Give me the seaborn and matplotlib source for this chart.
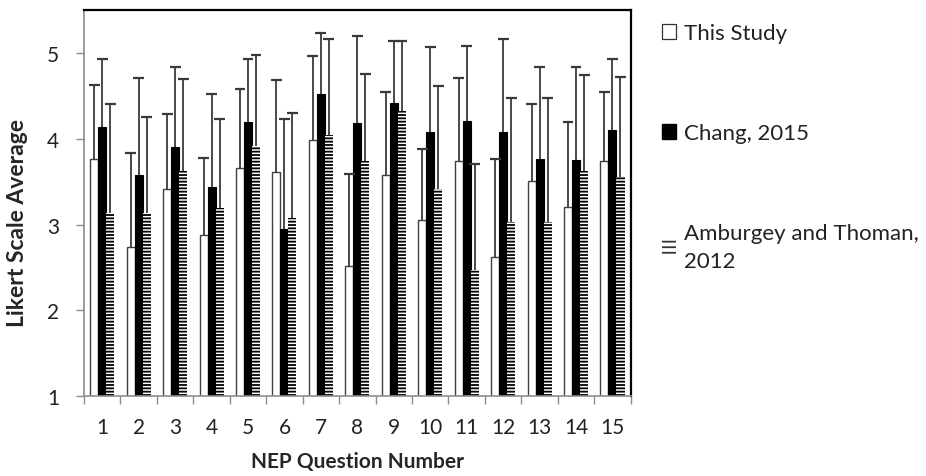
import numpy as np
import pandas as pd
import matplotlib
matplotlib.use("Agg")
import matplotlib.pyplot as plt
import seaborn as sns
from matplotlib.patches import Patch

questions = [str(i) for i in range(1, 16)]
studies = ["This Study", "Chang, 2015", "Amburgey and Thoman,\n2012"]

this_study = [3.77, 2.74, 3.42, 2.88, 3.66, 3.61, 3.98, 2.52, 3.58, 3.05, 3.74, 2.62, 3.51, 3.20, 3.74]
this_study_top = [4.63, 3.83, 4.29, 3.78, 4.58, 4.68, 4.96, 3.59, 4.55, 3.88, 4.71, 3.77, 4.40, 4.20, 4.55]
chang = [4.14, 3.58, 3.90, 3.44, 4.20, 2.95, 4.52, 4.18, 4.42, 4.08, 4.21, 4.08, 3.76, 3.75, 4.10]
chang_top = [4.93, 4.71, 4.83, 4.52, 4.93, 4.23, 5.23, 5.20, 5.14, 5.07, 5.08, 5.16, 4.83, 4.83, 4.93]
amburgey = [3.14, 3.14, 3.63, 3.19, 3.91, 3.08, 4.04, 3.74, 4.32, 3.42, 2.47, 3.03, 3.03, 3.63, 3.56]
amburgey_top = [4.40, 4.25, 4.70, 4.23, 4.98, 4.30, 5.16, 4.75, 5.14, 4.61, 3.71, 4.47, 4.47, 4.74, 4.72]

values = [this_study, chang, amburgey]
tops = [this_study_top, chang_top, amburgey_top]

df = pd.DataFrame({
    "Question": questions * 3,
    "Study": [s for s in studies for _ in questions],
    "Value": this_study + chang + amburgey,
})

sns.set_style("white")
plt.rcParams["font.family"] = ["Lato", "DejaVu Sans"]
plt.rcParams["hatch.linewidth"] = 1.3

fig = plt.figure(figsize=(9.26, 4.77), dpi=100)
ax = fig.add_axes([0.0907, 0.167, 0.5904, 0.810])

sns.barplot(data=df, x="Question", y="Value", hue="Study", order=questions,
            hue_order=studies, width=0.66, errorbar=None, ax=ax, legend=False)

styles = [
    dict(facecolor="white", edgecolor="#404040", linewidth=1.0, hatch=None),
    dict(facecolor="black", edgecolor="black", linewidth=0.8, hatch=None),
    dict(facecolor="white", edgecolor="black", linewidth=0.0, hatch="-----"),
]
for cont, st, tp in zip(ax.containers, styles, tops):
    for bar, t in zip(cont, tp):
        bar.set_facecolor(st["facecolor"])
        bar.set_edgecolor(st["edgecolor"])
        bar.set_linewidth(st["linewidth"])
        if st["hatch"]:
            bar.set_hatch(st["hatch"])
        xc = bar.get_x() + bar.get_width() / 2
        yb = bar.get_y() + bar.get_height()
        ax.vlines(xc, yb, t, color="#3a3a3a", lw=1.3, zorder=3)
        ax.hlines(t, xc - 0.15, xc + 0.15, color="#3a3a3a", lw=1.6, zorder=3)

ax.set_ylim(1, 5.5)
ax.set_xlim(-0.5, 14.5)
ax.set_yticks([1, 2, 3, 4, 5])
ax.set_yticklabels(["1", "2", "3", "4", "5"])
ax.set_xticks(range(15))
ax.set_xticklabels(questions)
ax.set_xticks(np.arange(-0.5, 15, 1), minor=True)
ax.tick_params(axis="x", which="major", length=0, pad=15, labelsize=15, colors="#222222")
ax.tick_params(axis="x", which="minor", length=6, width=1, color="#8c8c8c", direction="out", bottom=True)
ax.tick_params(axis="y", length=6, width=1, color="#8c8c8c", direction="out", left=True,
               labelsize=15, pad=12, labelcolor="#222222")

ax.set_xlabel("NEP Question Number", fontsize=15, fontweight="bold", labelpad=10)
ax.set_ylabel("Likert Scale Average", fontsize=16.5, fontweight="bold")
ax.yaxis.set_label_coords(-0.102, 0.45)

for side in ["top", "right"]:
    ax.spines[side].set_color("black")
    ax.spines[side].set_linewidth(1.6)
for side in ["left", "bottom"]:
    ax.spines[side].set_color("#8c8c8c")
    ax.spines[side].set_linewidth(1.2)

handles = [
    Patch(facecolor="white", edgecolor="#333333", linewidth=0.9),
    Patch(facecolor="black", edgecolor="black"),
    Patch(facecolor="white", edgecolor="#333333", linewidth=0, hatch="---"),
]
leg = ax.legend(handles, studies, loc="upper left", bbox_to_anchor=(1.057, 0.966),
                frameon=False, fontsize=16, handlelength=0.65, handleheight=0.65,
                handletextpad=0.35, labelspacing=3.6, borderaxespad=0, borderpad=0)
for t in leg.get_texts():
    t.set_linespacing(1.5)
    t.set_color("#222222")

fig.savefig("out.png", dpi=100)
